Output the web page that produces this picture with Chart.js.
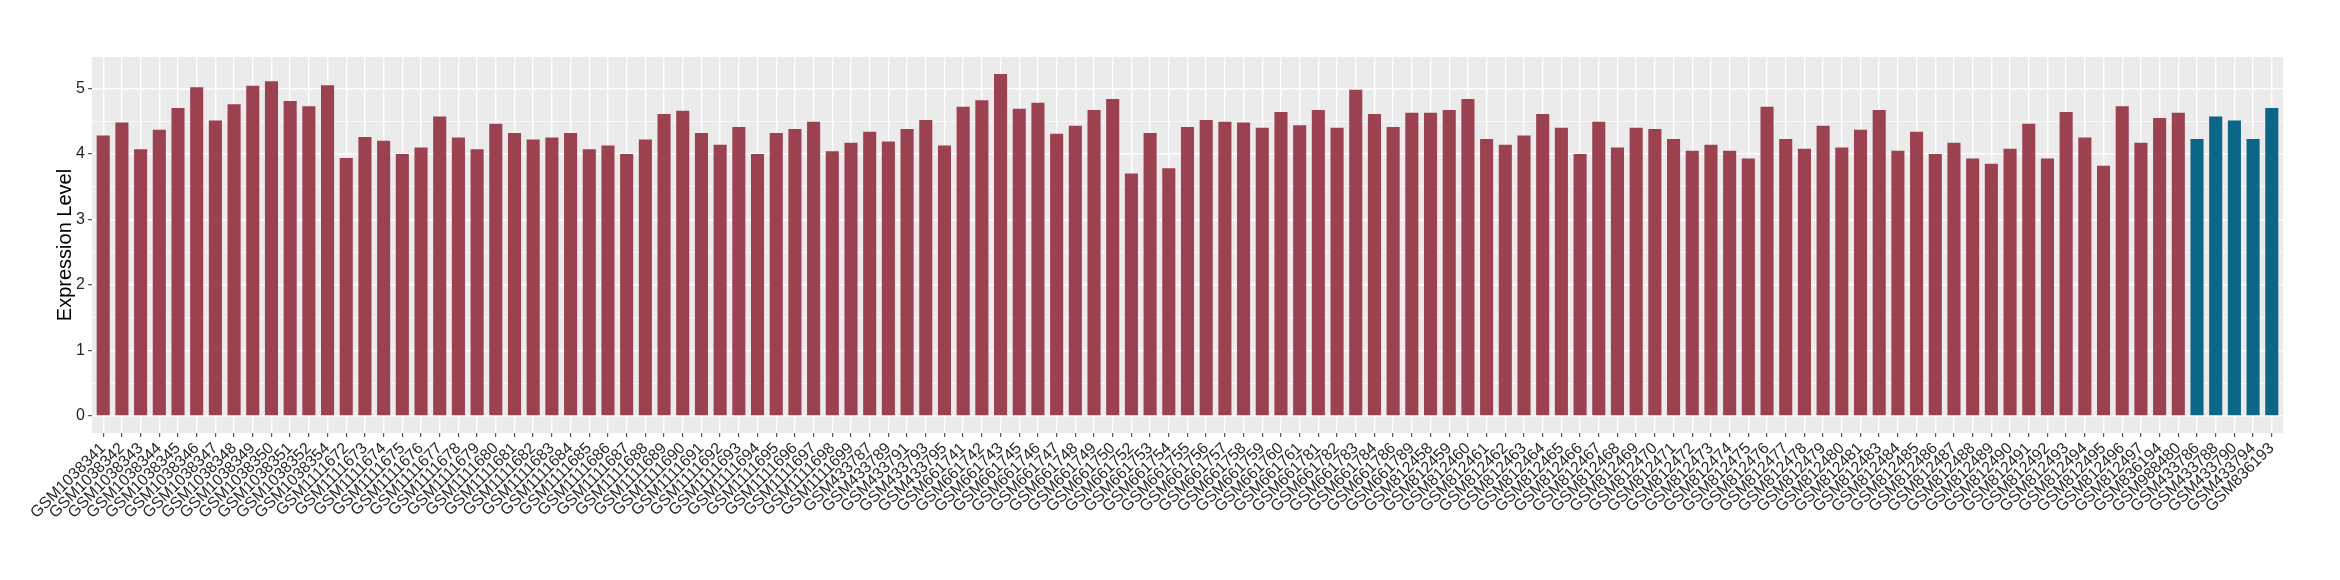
<!DOCTYPE html>
<html>
<head>
<meta charset="utf-8">
<script src="https://cdn.jsdelivr.net/npm/chart.js@4.4.1/dist/chart.umd.min.js"></script>
<style>
  html, body { margin: 0; padding: 0; background: #ffffff; }
  #wrap { width: 2340px; height: 580px; }
</style>
</head>
<body>
<div id="wrap"><canvas id="expr-chart" width="2340" height="580"></canvas></div>
<script>
// Amostras (eixo x), na ordem do gráfico
const samples = [
  'GSM1038341', 'GSM1038342', 'GSM1038343', 'GSM1038344', 'GSM1038345', 'GSM1038346', 'GSM1038347',
  'GSM1038348', 'GSM1038349', 'GSM1038350', 'GSM1038351', 'GSM1038352', 'GSM1038354',
  'GSM1111672', 'GSM1111673', 'GSM1111674', 'GSM1111675', 'GSM1111676', 'GSM1111677', 'GSM1111678',
  'GSM1111679', 'GSM1111680', 'GSM1111681', 'GSM1111682', 'GSM1111683', 'GSM1111684', 'GSM1111685',
  'GSM1111686', 'GSM1111687', 'GSM1111688', 'GSM1111689', 'GSM1111690', 'GSM1111691', 'GSM1111692',
  'GSM1111693', 'GSM1111694', 'GSM1111695', 'GSM1111696', 'GSM1111697', 'GSM1111698', 'GSM1111699',
  'GSM433787', 'GSM433789', 'GSM433791', 'GSM433793', 'GSM433795',
  'GSM661741', 'GSM661742', 'GSM661743', 'GSM661745', 'GSM661746', 'GSM661747', 'GSM661748',
  'GSM661749', 'GSM661750', 'GSM661752', 'GSM661753', 'GSM661754', 'GSM661755', 'GSM661756',
  'GSM661757', 'GSM661758', 'GSM661759', 'GSM661760', 'GSM661761', 'GSM661781', 'GSM661782',
  'GSM661783', 'GSM661784', 'GSM661786', 'GSM661789',
  'GSM812458', 'GSM812459', 'GSM812460', 'GSM812461', 'GSM812462', 'GSM812463', 'GSM812464',
  'GSM812465', 'GSM812466', 'GSM812467', 'GSM812468', 'GSM812469', 'GSM812470', 'GSM812471',
  'GSM812472', 'GSM812473', 'GSM812474', 'GSM812475', 'GSM812476', 'GSM812477', 'GSM812478',
  'GSM812479', 'GSM812480', 'GSM812481', 'GSM812483', 'GSM812484', 'GSM812485', 'GSM812486',
  'GSM812487', 'GSM812488', 'GSM812489', 'GSM812490', 'GSM812491', 'GSM812492', 'GSM812493',
  'GSM812494', 'GSM812495', 'GSM812496', 'GSM812497',
  'GSM836194', 'GSM988480',
  'GSM433786', 'GSM433788', 'GSM433790', 'GSM433794', 'GSM836193'
];

// Nível de expressão de cada amostra
const expression = [
  4.28, 4.48, 4.07, 4.37, 4.70, 5.02, 4.51, 4.76, 5.04, 5.11, 4.81, 4.73, 5.05,
  3.94, 4.26, 4.20, 4.00, 4.10, 4.57, 4.25, 4.07, 4.46, 4.32, 4.22, 4.25, 4.32, 4.07,
  4.13, 4.00, 4.22, 4.61, 4.66, 4.32, 4.14, 4.41, 4.00, 4.32, 4.38, 4.49, 4.04, 4.17,
  4.34, 4.19, 4.38, 4.52, 4.13,
  4.72, 4.82, 5.22, 4.69, 4.78, 4.31, 4.43, 4.67, 4.84, 3.70, 4.32, 3.78, 4.41, 4.52,
  4.49, 4.48, 4.40, 4.64, 4.44, 4.67, 4.40, 4.98, 4.61, 4.41, 4.63,
  4.63, 4.67, 4.84, 4.23, 4.14, 4.28, 4.61, 4.40, 4.00, 4.49, 4.10, 4.40, 4.38, 4.23,
  4.05, 4.14, 4.05, 3.93, 4.72, 4.23, 4.08, 4.43, 4.10, 4.37, 4.67, 4.05, 4.34, 4.00,
  4.17, 3.93, 3.85, 4.08, 4.46, 3.93, 4.64, 4.25, 3.82, 4.73, 4.17,
  4.55, 4.63,
  4.23, 4.57, 4.51, 4.23, 4.70
];

// Amostras destacadas em azul (grupo controle)
const controlSamples = ['GSM433786', 'GSM433788', 'GSM433790', 'GSM433794', 'GSM836193'];

// Marcas do eixo y
const yMajorTicks = [0, 1, 2, 3, 4, 5];
const yMinorTicks = [0.5, 1.5, 2.5, 3.5, 4.5];

const caseColor = '#9b4150';
const controlColor = '#0b6687';
const panelColor = '#ebebeb';
const textColor = '#262626';
const fontFamily = "'Liberation Sans', Arial, Helvetica, sans-serif";

// Fundo cinza do painel (estilo ggplot)
const panelBackground = {
  id: 'panelBackground',
  beforeDraw(chart) {
    const { ctx, chartArea } = chart;
    ctx.save();
    ctx.fillStyle = panelColor;
    ctx.fillRect(chartArea.left, chartArea.top, chartArea.right - chartArea.left, chartArea.bottom - chartArea.top);
    ctx.restore();
  }
};

function isMajor(value) {
  return yMajorTicks.includes(value);
}

const ctx = document.getElementById('expr-chart').getContext('2d');
const exprChart = new Chart(ctx, {
  type: 'bar',
  data: {
    datasets: [{
      label: 'Expression Level',
      data: expression.map((v, i) => ({ x: i, y: v })),
      backgroundColor: samples.map(s => controlSamples.includes(s) ? controlColor : caseColor),
      borderWidth: 0,
      barPercentage: 0.7,
      categoryPercentage: 1.0
    }]
  },
  options: {
    responsive: false,
    animation: false,
    events: [],
    layout: {
      padding: { left: 53, right: 57, top: 57, bottom: 0 }
    },
    plugins: {
      legend: { display: false },
      tooltip: { enabled: false }
    },
    scales: {
      x: {
        type: 'linear',
        min: -0.6,
        max: samples.length - 0.4,
        offset: false,
        bounds: 'data',
        border: { display: false },
        grid: {
          offset: false,
          color: '#ffffff',
          lineWidth: 1.4,
          tickColor: '#333333',
          tickWidth: 1,
          tickLength: 4
        },
        afterBuildTicks(scale) {
          scale.ticks = samples.map((_, i) => ({ value: i }));
        },
        afterFit(scale) {
          scale.height = 147;
        },
        ticks: {
          autoSkip: false,
          maxRotation: 45,
          minRotation: 45,
          padding: 2,
          color: textColor,
          font: { family: fontFamily, size: 16 },
          callback: (value) => samples[value]
        }
      },
      y: {
        type: 'linear',
        min: -0.26,
        max: 5.48,
        bounds: 'data',
        border: { display: false },
        grid: {
          color: '#ffffff',
          lineWidth: (c) => isMajor(c.tick.value) ? 1.4 : 0.7,
          tickColor: (c) => isMajor(c.tick.value) ? '#333333' : 'rgba(0,0,0,0)',
          tickWidth: 1,
          tickLength: 4
        },
        afterBuildTicks(scale) {
          scale.ticks = yMajorTicks.concat(yMinorTicks)
            .sort((a, b) => a - b)
            .map(v => ({ value: v }));
        },
        afterFit(scale) {
          scale.width = 39;
        },
        ticks: {
          padding: 3,
          color: textColor,
          font: { family: fontFamily, size: 16 },
          callback: (value) => isMajor(value) ? String(value) : ''
        },
        title: {
          display: true,
          text: 'Expression Level',
          color: '#000000',
          padding: 0,
          font: { family: fontFamily, size: 20 }
        }
      }
    }
  },
  plugins: [panelBackground]
});
</script>
</body>
</html>
